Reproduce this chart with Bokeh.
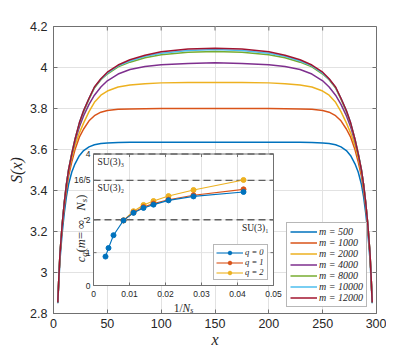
import math
from bokeh.plotting import figure
from bokeh.models import (Range1d, FixedTicker, CustomJSTickFormatter,
                          Legend, LegendItem, ColumnDataSource)
from bokeh.core.properties import value
from bokeh.embed import file_html
from bokeh.resources import INLINE

# ---------------- data: main panel (left half; profile symmetric about L/2) ----------------
L_chain = 300
x_half = [4, 5, 6, 8, 10, 12, 14, 17, 20, 24, 28, 33, 38, 44, 50, 60, 71, 85, 100, 125, 150]
m_values = [500, 1000, 2000, 4000, 8000, 10000, 12000]
S_m500   = [2.85, 2.96, 3.06, 3.19, 3.29, 3.37, 3.43, 3.49, 3.53, 3.57, 3.595, 3.613, 3.623, 3.629, 3.632, 3.634, 3.635, 3.635, 3.635, 3.635, 3.635]
S_m1000  = [2.855, 2.975, 3.08, 3.22, 3.32, 3.40, 3.47, 3.54, 3.60, 3.66, 3.70, 3.74, 3.765, 3.782, 3.79, 3.796, 3.798, 3.799, 3.80, 3.80, 3.80]
S_m2000  = [2.855, 2.98, 3.09, 3.23, 3.335, 3.42, 3.49, 3.56, 3.62, 3.68, 3.73, 3.785, 3.83, 3.865, 3.885, 3.905, 3.915, 3.921, 3.925, 3.927, 3.927]
S_m4000  = [2.855, 2.98, 3.09, 3.23, 3.34, 3.43, 3.50, 3.575, 3.64, 3.71, 3.765, 3.82, 3.865, 3.905, 3.935, 3.968, 3.99, 4.005, 4.013, 4.02, 4.023]
S_m8000  = [2.855, 2.98, 3.09, 3.23, 3.34, 3.43, 3.50, 3.58, 3.65, 3.725, 3.785, 3.845, 3.90, 3.94, 3.968, 4.003, 4.026, 4.048, 4.062, 4.074, 4.078]
S_m10000 = [2.855, 2.98, 3.09, 3.23, 3.34, 3.43, 3.50, 3.58, 3.65, 3.73, 3.79, 3.85, 3.903, 3.943, 3.972, 4.008, 4.032, 4.055, 4.070, 4.083, 4.088]
S_m12000 = [2.855, 2.98, 3.09, 3.23, 3.34, 3.43, 3.50, 3.58, 3.65, 3.73, 3.79, 3.85, 3.905, 3.945, 3.977, 4.012, 4.038, 4.060, 4.077, 4.090, 4.094]
main_series = [S_m500, S_m1000, S_m2000, S_m4000, S_m8000, S_m10000, S_m12000]
main_colors = ["#0072BD", "#D95319", "#EDB120", "#7E2F8E", "#77AC30", "#4DBEEE", "#A2142F"]
x_ticks = [0, 50, 100, 150, 200, 250, 300]
y_ticks = [2.8, 3, 3.2, 3.4, 3.6, 3.8, 4, 4.2]

# ---------------- data: inset ----------------
N_s_q0 = [300, 240, 180, 120, 90, 72, 60, 48, 36, 24]
c_q0 = [0.88, 1.14, 1.53, 1.98, 2.21, 2.36, 2.46, 2.59, 2.71, 2.845]
N_s_q12 = [120, 90, 72, 60, 48, 36, 24]
c_q1 = [1.98, 2.22, 2.385, 2.49, 2.61, 2.745, 2.925]
c_q2 = [1.98, 2.26, 2.45, 2.57, 2.72, 2.905, 3.21]
inset_colors = ["#0072BD", "#D95319", "#EDB120"]
inset_x_ticks = [0, 0.01, 0.02, 0.03, 0.04, 0.05]
inset_x_labels = ["0", "0.01", "0.02", "0.03", "0.04", "0.05"]
inset_y_ticks = [0, 1, 2, 3.2, 4]
inset_y_labels = ["0", "1", "2", "16/5", "4"]
su3_levels = [2, 3.2, 4]
su3_names = ["SU(3)\u2081", "SU(3)\u2082", "SU(3)\u2083"]

# ---------------- layout constants (page pixels) ----------------
FR_L, FR_R, FR_T, FR_B = 53, 376, 26, 313
PAGE_H = 352
IN_L, IN_R, IN_T, IN_B = 93, 273, 153.5, 285
IX0, IX1 = 0.0, 0.05
IY0, IY1 = 0.0, 4.0
AX = "#707070"
TXT = "#262626"
GRID = "#e2e2e2"

sx = (IX1 - IX0) / (IN_R - IN_L)
sy = (IY1 - IY0) / (IN_B - IN_T)
ix_range = Range1d(IX0 - (IN_L - FR_L) * sx, IX1 + (FR_R - IN_R) * sx)
iy_range = Range1d(IY0 - (FR_B - IN_B) * sy, IY1 + (IN_T - FR_T) * sy)

p = figure(width=FR_R + 10, height=PAGE_H,
           x_range=Range1d(0, 300), y_range=Range1d(2.8, 4.2),
           output_backend="svg", toolbar_location=None,
           min_border_left=FR_L, min_border_right=10,
           min_border_top=FR_T, min_border_bottom=PAGE_H - FR_B)
p.extra_x_ranges = {"ix": ix_range}
p.extra_y_ranges = {"iy": iy_range}
p.background_fill_color = "white"
p.border_fill_color = "white"
p.outline_line_color = AX
p.outline_line_width = 1

fmt = CustomJSTickFormatter(code="return tick.toString();")
for ax, tk in ((p.xaxis[0], x_ticks), (p.yaxis[0], y_ticks)):
    ax.ticker = FixedTicker(ticks=tk)
    ax.formatter = fmt
    ax.major_tick_in = 4
    ax.major_tick_out = 0
    ax.minor_tick_line_color = None
    ax.axis_line_color = AX
    ax.major_tick_line_color = AX
    ax.major_label_text_font = "Liberation Sans"
    ax.major_label_text_font_size = "12.5px"
    ax.major_label_text_color = TXT
    ax.major_label_standoff = 6
    ax.axis_label_text_font = "Liberation Serif"
    ax.axis_label_text_font_style = "italic"
    ax.axis_label_text_font_size = "16px"
    ax.axis_label_text_color = TXT
    ax.axis_label_standoff = 2
p.xaxis[0].axis_label = "x"
p.xaxis[0].major_label_standoff = 5
p.xaxis[0].axis_label_standoff = 0
p.yaxis[0].axis_label = "S(x)"

p.xgrid.ticker = FixedTicker(ticks=x_ticks)
p.ygrid.ticker = FixedTicker(ticks=y_ticks)
p.grid.grid_line_color = GRID
p.grid.grid_line_width = 1

# inner ticks on the top and right sides of the box
p.ray(x=x_ticks, y=[4.2] * len(x_ticks), length=4, length_units="screen",
      angle=-math.pi / 2, line_color=AX)
p.ray(x=[300] * len(y_ticks), y=y_ticks, length=4, length_units="screen",
      angle=math.pi, line_color=AX)

# ---------------- main curves ----------------
x_full = x_half + [L_chain - v for v in reversed(x_half[:-1])]
main_items = []
for m, S, col in zip(m_values, main_series, main_colors):
    S_full = S + S[-2::-1]
    r = p.line(x_full, S_full, line_color=col, line_width=1.5)
    main_items.append(LegendItem(label=f"m = {m}", renderers=[r]))

leg = Legend(items=main_items, location=(286 - FR_L, FR_B - 307), margin=0,
             padding=3, spacing=0, glyph_width=27, glyph_height=11, label_height=11,
             label_standoff=2, label_text_font="Liberation Serif",
             label_text_font_style="italic", label_text_font_size="10px",
             label_text_color=TXT, border_line_color=AX, border_line_width=1,
             background_fill_color="white", background_fill_alpha=1)
p.add_layout(leg)

# ---------------- inset ----------------
R = dict(x_range_name="ix", y_range_name="iy")
p.quad(left=[IX0], right=[IX1], bottom=[IY0], top=[IY1], fill_color="white",
       line_color=None, **R)
gx = inset_x_ticks[1:-1]
p.segment(x0=gx, y0=[IY0] * len(gx), x1=gx, y1=[IY1] * len(gx), line_color=GRID, line_width=1, **R)
gy = inset_y_ticks[1:-1]
p.segment(x0=[IX0] * len(gy), y0=gy, x1=[IX1] * len(gy), y1=gy, line_color=GRID, line_width=1, **R)
p.segment(x0=[IX0] * len(su3_levels), y0=su3_levels, x1=[IX1] * len(su3_levels), y1=su3_levels,
          line_color="#606060", line_width=1.3, line_dash="7 4", **R)

inv_q0 = [1.0 / n for n in N_s_q0]
inv_q12 = [1.0 / n for n in N_s_q12]
inset_sets = [(inv_q0, c_q0, "q = 0"), (inv_q12, c_q1, "q = 1"), (inv_q12, c_q2, "q = 2")]
rends = {}
for idx in (2, 1, 0):
    xs, ys, lab = inset_sets[idx]
    col = inset_colors[idx]
    rl = p.line(xs, ys, line_color=col, line_width=1.1, **R)
    rs = p.scatter(xs, ys, marker="circle", size=5, fill_color=col, line_color=col, **R)
    rends[idx] = (lab, [rl, rs])

p.quad(left=[IX0], right=[IX1], bottom=[IY0], top=[IY1], fill_color=None,
       line_color=AX, line_width=1, **R)
# inner ticks
n = len(inset_x_ticks)
p.ray(x=inset_x_ticks, y=[IY0] * n, length=3, length_units="screen", angle=math.pi / 2, line_color=AX, **R)
p.ray(x=inset_x_ticks, y=[IY1] * n, length=3, length_units="screen", angle=-math.pi / 2, line_color=AX, **R)
k = len(inset_y_ticks)
p.ray(x=[IX0] * k, y=inset_y_ticks, length=3, length_units="screen", angle=0, line_color=AX, **R)
p.ray(x=[IX1] * k, y=inset_y_ticks, length=3, length_units="screen", angle=math.pi, line_color=AX, **R)

# tick labels
p.text(x=inset_x_ticks, y=[IY0] * n, text=inset_x_labels, text_align="center", text_baseline="top",
       y_offset=5, text_font=value("Liberation Sans"), text_font_size="8.5px", text_color=TXT, **R)
p.text(x=[IX0] * k, y=inset_y_ticks, text=inset_y_labels, text_align="right", text_baseline="middle",
       x_offset=-3, text_font=value("Liberation Sans"), text_font_size="8.5px", text_color=TXT, **R)

# SU(3)_k labels
p.text(x=[IX1, IX0, IX0], y=su3_levels, text=su3_names, text_align=["right", "left", "left"],
       text_baseline="top", x_offset=[-5, 4, 4], y_offset=3, text_font=value("Liberation Serif"),
       text_font_size="9.5px", text_color=TXT, **R)

# composed axis labels (italic symbols with subscripts)
EM = {"c": .444, "q": .5, "(": .333, ")": .333, "m": .722, " ": .25, "=": .564,
      "\u221e": .713, ",": .25, "N": .667, "s": .389, "1": .5, "/": .278}


def wid(t, size):
    return sum(EM.get(ch, .5) for ch in t) * size


def composed(pieces, total_center, rotated):
    total = sum(wid(t, s) for t, st, s, sub in pieces)
    pos = -total / 2.0
    rows = dict(t=[], st=[], fs=[], xo=[], yo=[])
    for t, st, s, sub in pieces:
        rows["t"].append(t)
        rows["st"].append(st)
        rows["fs"].append(f"{s}px")
        if rotated:
            rows["xo"].append(total_center[0] + sub)
            rows["yo"].append(total_center[1] - pos)
        else:
            rows["xo"].append(total_center[0] + pos)
            rows["yo"].append(total_center[1] + sub)
        pos += wid(t, s)
    return rows


ylab = [("c", "italic", 12.5, 0), ("q", "italic", 9, 3), ("(", "normal", 12.5, 0),
        ("m", "italic", 12.5, 0), (" = \u221e, ", "normal", 12.5, 0), ("N", "italic", 12.5, 0),
        ("s", "italic", 9, 3), (")", "normal", 12.5, 0)]
rows = composed(ylab, (80 - IN_L, 228 - IN_B), True)
src = ColumnDataSource(dict(x=[IX0] * len(ylab), y=[IY0] * len(ylab), **rows))
p.text(x="x", y="y", text="t", source=src, angle=math.pi / 2, text_align="left",
       text_baseline="alphabetic", x_offset="xo", y_offset="yo", text_font=value("Liberation Serif"),
       text_font_style="st", text_font_size="fs", text_color=TXT, **R)

xlab = [("1/", "normal", 11.5, 0), ("N", "italic", 11.5, 0), ("s", "italic", 8, 2.5)]
rows = composed(xlab, (0, 307 - IN_B), False)
src2 = ColumnDataSource(dict(x=[(IX0 + IX1) / 2] * len(xlab), y=[IY0] * len(xlab), **rows))
p.text(x="x", y="y", text="t", source=src2, text_align="left", text_baseline="alphabetic",
       x_offset="xo", y_offset="yo", text_font=value("Liberation Serif"),
       text_font_style="st", text_font_size="fs", text_color=TXT, **R)

inset_leg = Legend(items=[LegendItem(label=rends[i][0], renderers=rends[i][1]) for i in (0, 1, 2)],
                   location=(213 - FR_L, FR_B - 280), margin=0, padding=2, spacing=0,
                   glyph_width=27, glyph_height=9, label_height=9, label_standoff=2,
                   label_text_font="Liberation Serif", label_text_font_style="italic",
                   label_text_font_size="8.5px", label_text_color=TXT,
                   border_line_color=AX, border_line_width=1,
                   background_fill_color="white", background_fill_alpha=1)
p.add_layout(inset_leg)

open("out.html", "w").write(file_html(p, INLINE))
